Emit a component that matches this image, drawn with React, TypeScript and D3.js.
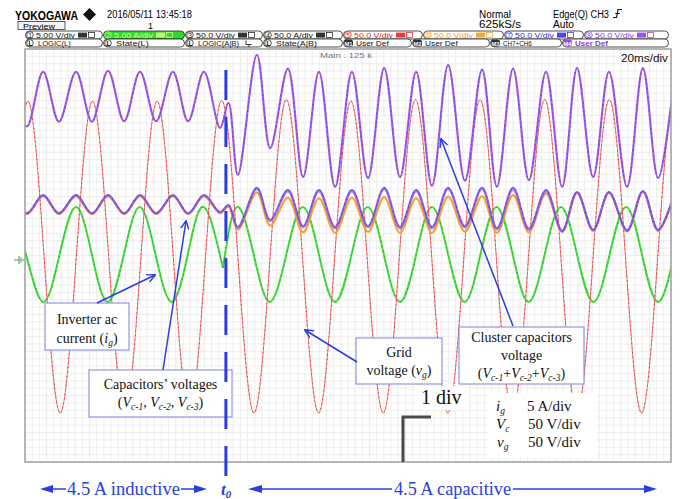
import React from 'react';
import * as d3 from 'd3';

// time axis in ms (20 ms/div, 10 div), level in screen divisions (8 div)
const redTimes = [-4.1, 0.9, 5.9, 10.9, 15.9, 20.9, 25.9, 30.9, 35.9, 40.9, 45.9, 50.9, 55.9, 60.9, 65.9, 70.9, 75.9, 80.9, 85.9, 90.9, 95.9, 100.9, 105.9, 110.9, 115.9, 120.9, 125.9, 130.9, 135.9, 140.9, 145.9, 150.9, 155.9, 160.9, 165.9, 170.9, 175.9, 180.9, 185.9, 190.9, 195.9, 200.9, 205.9];
const redValues = [-0.02, 2.99, -0.02, -3.05, -0.02, 2.99, -0.02, -3.05, -0.02, 2.99, -0.02, -3.05, -0.02, 3.0, -0.02, -3.05, -0.02, 3.02, -0.02, -3.05, -0.02, 2.99, -0.02, -3.05, -0.02, 3.02, -0.02, -3.05, -0.02, 3.02, -0.02, -3.05, -0.02, 3.02, -0.02, -3.05, -0.02, 3.02, -0.02, -3.05, -0.02, 3.0, -0.02];

const greenPreTimes = [-4.7, 0.3, 5.6, 10.7, 15.8, 20.7, 25.6, 30.6, 35.5, 40.4, 45.4, 50.4, 55.3, 61.3];
const greenPreValues = [0.94, 0.02, -0.9, 0.02, 0.94, 0.02, -0.9, 0.02, 0.94, 0.02, -0.9, 0.02, 0.94, -0.24];
const greenPostTimes = [61.3, 65.6, 70.8, 75.8, 80.9, 86.0, 91.0, 96.0, 101.1, 106.1, 111.1, 116.1, 121.1, 126.0, 131.0, 136.1, 141.0, 146.0, 151.0, 155.9, 160.9, 165.9, 170.9, 176.0, 181.0, 186.1, 191.0, 196.0, 201.0];
const greenPostValues = [-0.24, 0.94, 0.02, -0.9, 0.02, 0.94, 0.02, -0.9, 0.02, 0.94, 0.02, -0.9, 0.02, 0.94, 0.02, -0.9, 0.02, 0.94, 0.02, -0.9, 0.02, 0.94, 0.02, -0.9, 0.02, 0.94, 0.02, -0.9, 0.02];

// ripple extremes shared by the capacitor traces and their sum
const rippleTimes = [-4.4, 0.6, 5.6, 10.5, 15.8, 20.7, 25.7, 30.7, 35.6, 40.6, 45.8, 50.5, 55.4, 60.4, 63.0, 65.9, 71.8, 75.9, 81.4, 86.1, 91.0, 96.0, 101.2, 106.2, 111.2, 116.1, 121.1, 126.0, 131.0, 136.2, 141.5, 146.1, 151.1, 156.0, 161.3, 166.3, 170.9, 175.9, 180.8, 186.4, 191.3, 196.0, 201.3];
const clusterValues = [3.56, 2.5, 3.56, 2.59, 3.56, 2.59, 3.58, 2.6, 3.56, 2.6, 3.56, 2.6, 3.56, 2.47, 2.96, 1.56, 3.89, 2.08, 3.62, 1.52, 3.56, 1.33, 3.56, 1.5, 3.63, 1.52, 3.56, 1.35, 3.69, 1.45, 3.6, 1.33, 3.62, 1.46, 3.56, 1.33, 3.63, 1.52, 3.56, 1.33, 3.63, 1.5, 3.6];
const vc1Values = [1.15, 0.8, 1.15, 0.8, 1.15, 0.8, 1.15, 0.8, 1.15, 0.8, 1.15, 0.8, 1.15, 0.82, 0.95, 0.5, 1.22, 0.58, 1.12, 0.45, 1.11, 0.44, 1.12, 0.46, 1.13, 0.44, 1.11, 0.44, 1.14, 0.46, 1.15, 0.44, 1.17, 0.45, 1.2, 0.46, 1.21, 0.48, 1.21, 0.47, 1.23, 0.48, 1.23];
const vc2Values = [1.17, 0.82, 1.17, 0.82, 1.17, 0.82, 1.17, 0.82, 1.17, 0.82, 1.17, 0.82, 1.17, 0.84, 0.98, 0.55, 1.31, 0.69, 1.27, 0.57, 1.27, 0.55, 1.27, 0.57, 1.31, 0.55, 1.27, 0.55, 1.31, 0.57, 1.31, 0.53, 1.31, 0.52, 1.27, 0.48, 1.23, 0.5, 1.23, 0.49, 1.25, 0.5, 1.25];
const vc3Values = [1.16, 0.81, 1.16, 0.81, 1.16, 0.81, 1.16, 0.81, 1.16, 0.81, 1.16, 0.81, 1.16, 0.83, 0.97, 0.53, 1.28, 0.66, 1.24, 0.54, 1.24, 0.52, 1.24, 0.54, 1.28, 0.52, 1.24, 0.52, 1.28, 0.54, 1.28, 0.5, 1.27, 0.49, 1.24, 0.46, 1.22, 0.48, 1.22, 0.47, 1.24, 0.48, 1.24];

const t0 = 62.2;

const chNums = ['1', '2', '3', '4', '5', '6', '7', '8'];
const chScales = ['5.00 V/div', '5.00 A/div', '50.0 V/div', '50.0 A/div', '50.0 V/div', '50.0 V/div', '50.0 V/div', '50.0 V/div'];
const chColors = ['#111', '#d8ff80', '#111', '#111', '#e51a1a', '#f29a22', '#2a2ae6', '#8a36e6'];
const row4Tags = ['L', 'L', 'L', 'L', 'M1', 'M2', 'M3', 'M4'];
const row4Texts = ['LOGIC(L)', 'State(L)', 'LOGIC(A|B)', 'State(A|B)', 'User Def', 'User Def', 'CH7+CH6', 'User Def'];

const PX0 = 25, PX1 = 671, PY0 = 49, PY1 = 462;
const x = d3.scaleLinear().domain([0, 200]).range([PX0, PX1]);
const y = d3.scaleLinear().domain([-4, 4]).range([PY1, PY0]);

const path = (times: number[], values: number[], curve: any) =>
  d3.line<number>().x((_, i) => x(times[i])).y(v => y(v)).curve(curve)(values) || '';

const serif = "'Liberation Serif', 'Times New Roman', serif";
const sans = "'Liberation Sans', Arial, sans-serif";
const blue = '#2a3ee0';

// italic symbol with a subscript that does not move the following text
const Sub = ({ base, sub }: any) => (
  <>
    <tspan fontStyle="italic">{base}</tspan>
    <tspan fontStyle="italic" fontSize="9.5" baselineShift="-3">{sub}</tspan>
  </>
);

export default function App() {
  const row3Edges = [25, 103, 185, 263, 343, 423, 504, 584, 669];
  const row4Edges = [25, 103, 185, 263, 343, 412, 490, 562, 669];

  const gridX = d3.range(0, 200.001, 20 / 9);
  const gridY = d3.range(-4, 4.001, 1 / 7);

  const red = path(redTimes, redValues, d3.curveNatural);
  const gPre = path(greenPreTimes, greenPreValues, d3.curveNatural);
  const gPost = path(greenPostTimes, greenPostValues, d3.curveNatural);
  const cr = d3.curveCatmullRom.alpha(0.5);
  const cl = path(rippleTimes, clusterValues, cr);
  const v1 = path(rippleTimes, vc1Values, cr);
  const v2 = path(rippleTimes, vc2Values, cr);
  const v3 = path(rippleTimes, vc3Values, cr);

  return (
    <svg width={688} height={499} style={{ position: 'absolute', left: 0, top: 0, background: '#fff' }}>
      <defs>
        <clipPath id="plot">
          <rect x={PX0} y={PY0} width={PX1 - PX0} height={PY1 - PY0} />
        </clipPath>
        <marker id="ah" viewBox="0 0 10 10" refX="9" refY="5" markerWidth="6" markerHeight="6" orient="auto">
          <path d="M0,0.5 L9.5,5 L0,9.5" fill="none" stroke={blue} strokeWidth="1.6" />
        </marker>
      </defs>
      <rect width={688} height={499} fill="#fff" />

      {/* header */}
      <text x={15} y={19.5} fontFamily={sans} fontWeight="bold" fontSize={13.5} textLength={63} lengthAdjust="spacingAndGlyphs">YOKOGAWA</text>
      <path d="M89.5,8 L96,14.5 L89.5,21 L83,14.5 Z" fill="#111" />
      <text x={107} y={18} fontFamily={sans} fontSize={10.5} textLength={85} lengthAdjust="spacingAndGlyphs">2016/05/11 13:45:18</text>
      <rect x={18} y={21.5} width={47} height={8} fill="#f4f4f4" stroke="#333" strokeWidth={0.8} />
      <text x={23} y={28.5} fontFamily={sans} fontSize={8} textLength={32} lengthAdjust="spacingAndGlyphs">Preview</text>
      <text x={148} y={28.5} fontFamily={sans} fontSize={9}>1</text>
      <text x={479} y={17.5} fontFamily={sans} fontSize={10} textLength={32} lengthAdjust="spacingAndGlyphs">Normal</text>
      <text x={479} y={28} fontFamily={sans} fontSize={10} textLength={42} lengthAdjust="spacingAndGlyphs">625kS/s</text>
      <text x={553} y={17.5} fontFamily={sans} fontSize={10} textLength={56} lengthAdjust="spacingAndGlyphs">Edge(Q) CH3</text>
      <path d="M613,17.5 H616.5 L618,9.5 H622 M615.2,13.5 H619.8" fill="none" stroke="#111" strokeWidth={1.1} />
      <text x={553} y={28} fontFamily={sans} fontSize={10} textLength={21} lengthAdjust="spacingAndGlyphs">Auto</text>

      {/* channel rows */}
      {chNums.map((n, i) => {
        const x0 = row3Edges[i], x1 = row3Edges[i + 1];
        const c = chColors[i];
        const green = i === 1;
        return (
          <g key={'r3' + i}>
            <rect x={x0 + 0.5} y={31} width={x1 - x0 - 1} height={8} rx={4} fill={green ? '#35d935' : '#fff'} stroke="#222" strokeWidth={0.8} />
            <circle cx={x0 + 5} cy={35} r={3.3} fill={green ? '#35d935' : '#fff'} stroke={green ? '#d8ff80' : c} strokeWidth={0.7} />
            <text x={x0 + 5} y={37.5} textAnchor="middle" fontFamily={sans} fontSize={6.5} fill={c}>{n}</text>
            <text x={x0 + 11} y={38} fontFamily={sans} fontSize={8} fill={c} textLength={39} lengthAdjust="spacingAndGlyphs">{chScales[i]}</text>
            <rect x={x0 + 53} y={32.6} width={9} height={5} fill={c} opacity={0.85} />
            <rect x={x0 + 63.5} y={32.6} width={6} height={5} fill="none" stroke={c} strokeWidth={0.7} />
          </g>
        );
      })}
      {row4Tags.map((t, i) => {
        const x0 = row4Edges[i], x1 = row4Edges[i + 1];
        const m = t.startsWith('M');
        const c = i === 7 ? '#8a36e6' : '#111';
        return (
          <g key={'r4' + i}>
            <rect x={x0 + 0.5} y={39} width={x1 - x0 - 1} height={8} rx={4} fill="#fff" stroke="#222" strokeWidth={0.8} />
            {m ? (
              <rect x={x0 + 1} y={39.6} width={9} height={6.8} rx={2.5} fill={i === 7 ? '#9a4de6' : '#333'} />
            ) : (
              <circle cx={x0 + 5} cy={43} r={3.3} fill="#fff" stroke="#111" strokeWidth={0.7} />
            )}
            <text x={x0 + 5.5} y={45.5} textAnchor="middle" fontFamily={sans} fontSize={m ? 5.8 : 6.5} fontWeight="bold" fill={m ? '#fff' : '#111'}>{t}</text>
            <text x={x0 + 13} y={46} fontFamily={sans} fontSize={8} fontWeight={i === 7 ? 'bold' : 'normal'} fill={c} textLength={row4Texts[i].length * 4.1} lengthAdjust="spacingAndGlyphs">{row4Texts[i]}</text>
          </g>
        );
      })}
      <path d="M246,40.5 V44.5 H251.5 M249,44.5 V47" fill="none" stroke="#222" strokeWidth={0.9} />

      {/* screen */}
      <rect x={PX0} y={PY0} width={PX1 - PX0} height={PY1 - PY0} fill="#fff" />
      <g stroke="#e6e6e6" strokeWidth={0.7}>
        {gridX.map((t, i) => <line key={'gx' + i} x1={x(t)} x2={x(t)} y1={PY0} y2={PY1} />)}
        {gridY.map((v, i) => <line key={'gy' + i} x1={PX0} x2={PX1} y1={y(v)} y2={y(v)} />)}
      </g>

      <g clipPath="url(#plot)" fill="none" strokeLinejoin="round">
        <path d={gPre} stroke="#44dd3c" strokeWidth={2} />
        <path d={gPost} stroke="#44dd3c" strokeWidth={2} />
        <path d={gPre} stroke="#238a23" strokeWidth={0.9} strokeDasharray="1 4" />
        <path d={gPost} stroke="#238a23" strokeWidth={0.9} strokeDasharray="1 4" />
        <path d={red} stroke="#f27070" strokeWidth={1} />
        <path d={red} stroke="#c23434" strokeWidth={1} strokeDasharray="1 3.5" />
        <path d={v1} stroke="#f5a032" strokeWidth={2.1} />
        <path d={v2} stroke="#6a58f2" strokeWidth={2} strokeOpacity={0.9} />
        <path d={v3} stroke="#9b58e0" strokeWidth={1.8} strokeOpacity={0.7} />
        <path d={v2} stroke="#3a2a90" strokeWidth={0.8} strokeDasharray="1 4" />
        <path d={cl} stroke="#9f5ae8" strokeWidth={2.1} />
        <path d={cl} stroke="#5b2d9a" strokeWidth={0.9} strokeDasharray="1 3.5" />
      </g>
      <rect x={PX0} y={PY0} width={PX1 - PX0} height={PY1 - PY0} fill="none" stroke="#a0a0a0" strokeWidth={1.5} />

      <text x={320} y={58} fontFamily={sans} fontSize={8} fill="#777" textLength={52} lengthAdjust="spacingAndGlyphs">Main : 125 k</text>
      <text x={668} y={62} textAnchor="end" fontFamily={sans} fontSize={11.5} fill="#111" textLength={47} lengthAdjust="spacingAndGlyphs">20ms/div</text>

      {/* ground marker */}
      <path d="M14,260 H19 M19,256 V264 M21,257.5 V262.5 M23,259 V261" stroke="#5a9a5a" strokeWidth={1.1} fill="none" />

      {/* annotation boxes */}
      <g fontFamily={serif} fontSize={14} fill="#111">
        <rect x={45} y={303} width={84} height={47} fill="#fff" stroke="#8080d8" strokeWidth={1} />
        <text x={87} y={324} textAnchor="middle">Inverter ac</text>
        <text x={87} y={343} textAnchor="middle">current (<Sub base="i" sub="g" />)</text>

        <rect x={89} y={370} width={143} height={47} fill="#fff" stroke="#8080d8" strokeWidth={1} />
        <text x={160.5} y={389} textAnchor="middle">Capacitors’ voltages</text>
        <text x={160.5} y={407} textAnchor="middle">(<Sub base="V" sub="c-1" />, <Sub base="V" sub="c-2" />, <Sub base="V" sub="c-3" />)</text>

        <rect x={356} y={338} width={86} height={46} fill="#fff" stroke="#8080d8" strokeWidth={1} />
        <text x={399} y={357} textAnchor="middle">Grid</text>
        <text x={399} y={375} textAnchor="middle">voltage (<Sub base="v" sub="g" />)</text>

        <rect x={459} y={327} width={125} height={57} fill="#fff" stroke="#8080d8" strokeWidth={1} />
        <text x={521.5} y={342} textAnchor="middle">Cluster capacitors</text>
        <text x={521.5} y={360} textAnchor="middle">voltage</text>
        <text x={521.5} y={378} textAnchor="middle">(<Sub base="V" sub="c-1" />+<Sub base="V" sub="c-2" />+<Sub base="V" sub="c-3" />)</text>
      </g>

      {/* scale note */}
      <rect x={415} y={386} width={54} height={24} fill="#fff" />
      <rect x={488} y={393} width={108} height={64} fill="#fff" />
      <text x={421} y={404} fontFamily={serif} fontSize={20} fill="#111">1 div</text>
      <path d="M431,417 H403 V462" fill="none" stroke="#4a4a4a" strokeWidth={3} />
      <g fontFamily={serif} fontSize={15} fill="#111">
        <text x={496} y={411}><Sub base="i" sub="g" /></text>
        <text x={527} y={411}>5 A/div</text>
        <text x={496} y={429}><Sub base="V" sub="c" /></text>
        <text x={528} y={429}>50 V/div</text>
        <text x={497} y={447}><Sub base="v" sub="g" /></text>
        <text x={528} y={447}>50 V/div</text>
      </g>

      {/* pointers */}
      <g stroke={blue} strokeWidth={1.5} fill="none" markerEnd="url(#ah)">
        <line x1={97} y1={303} x2={155} y2={275} />
        <line x1={163} y1={370} x2={186} y2={221} />
        <line x1={357} y1={362} x2={305} y2={330} />
        <line x1={513} y1={326} x2={441} y2={139} />
      </g>

      {/* t0 marker */}
      <line x1={x(t0)} x2={x(t0)} y1={70} y2={478} stroke={blue} strokeWidth={3} strokeDasharray="30 17" />

      {/* mode arrows */}
      <g fill={blue} stroke="none">
        <polygon points="40,489 53,485 53,493" />
        <polygon points="207,489 194,485 194,493" />
        <polygon points="248,489 262,485 262,493" />
        <polygon points="657,489 644,485 644,493" />
      </g>
      <g stroke={blue} strokeWidth={1.5}>
        <line x1={53} x2={66} y1={489} y2={489} />
        <line x1={181} x2={194} y1={489} y2={489} />
        <line x1={262} x2={392} y1={489} y2={489} />
        <line x1={513} x2={644} y1={489} y2={489} />
      </g>
      <text x={67} y={495} fontFamily={serif} fontSize={18} fill={blue} textLength={113} lengthAdjust="spacingAndGlyphs">4.5 A inductive</text>
      <text x={221} y={495} fontFamily={serif} fontSize={17} fontWeight="bold" fontStyle="italic" fill={blue}>t<tspan fontSize={11} baselineShift="-3">0</tspan></text>
      <text x={394} y={495} fontFamily={serif} fontSize={18} fill={blue} textLength={117} lengthAdjust="spacingAndGlyphs">4.5 A capacitive</text>
    </svg>
  );
}
